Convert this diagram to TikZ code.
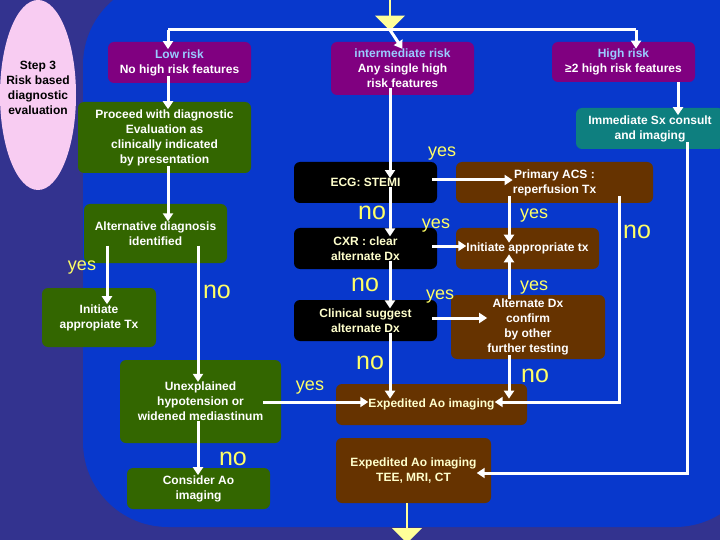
\documentclass[tikz,border=0pt]{standalone}
\usepackage{fontspec}
\setmainfont{Liberation Sans}
\usetikzlibrary{arrows.meta,shapes.arrows,shapes.geometric}
\definecolor{outer}{HTML}{33338F}
\definecolor{inner}{HTML}{0838CC}
\definecolor{purp}{HTML}{800080}
\definecolor{grn}{HTML}{336600}
\definecolor{brn}{HTML}{663300}
\definecolor{teal2}{HTML}{0E7F7F}
\definecolor{lab}{HTML}{FFFF66}
\definecolor{lyel}{HTML}{FFFFCC}
\definecolor{lblue}{HTML}{99CCFF}
\definecolor{pink}{HTML}{F8CCF2}
\definecolor{bigarr}{HTML}{FFFF99}
\begin{document}
\begin{tikzpicture}[x=1pt,y=-1pt,
 box/.style={rounded corners=6pt,inner sep=0pt,align=center,font=\bfseries\fontsize{12}{15}\selectfont,text=white},
 pbox/.style={box,fill=purp},
 gbox/.style={box,fill=grn},
 bbox/.style={box,fill=brn},
 kbox/.style={box,fill=black,text=lyel},
 ln/.style={draw=white,line width=3pt,-{Triangle[length=8pt,width=10pt]}},
 pl/.style={draw=white,line width=3pt},
 yes/.style={text=lab,font=\fontsize{18}{18}\selectfont},
 no/.style={text=lab,font=\fontsize{25}{25}\selectfont}]
\useasboundingbox (0,0) rectangle (720,540);
\fill[outer] (0,0) rectangle (720,540);
\fill[inner,rounded corners=85pt] (83,-20) rectangle (760,527);
\node[fill=pink,ellipse,minimum width=76pt,minimum height=190pt,inner sep=0pt] (ell) at (38,95) {};
\node[align=center,font=\bfseries\fontsize{12}{15}\selectfont] (step) at (38,88) {Step 3\\Risk based\\diagnostic\\evaluation};
% boxes
\path[pbox] (108,42) rectangle (251,83) node[midway] (low) {\textcolor{lblue}{Low risk}\\No high risk features};
\path[pbox] (331,42) rectangle (474,95) node[midway] (int) {\textcolor{lblue}{intermediate risk}\\Any single high\\risk features};
\path[pbox] (552,42) rectangle (695,82) node[midway] (high) {\textcolor{lblue}{High risk}\\≥2 high risk features};
\path[box,fill=teal2] (576,108) rectangle (724,149) node[midway] (imm) {Immediate Sx consult\\and imaging};
\path[gbox] (78,102) rectangle (251,173) node[midway] (proc) {Proceed with diagnostic\\Evaluation as\\clinically indicated\\by presentation};
\path[gbox] (84,204) rectangle (227,263) node[midway] (alt) {Alternative diagnosis\\identified};
\path[gbox] (42,288) rectangle (156,347) node[midway] (init) {Initiate\\appropiate Tx};
\path[gbox] (120,360) rectangle (281,443) node[midway] (unex) {Unexplained\\hypotension or\\widened mediastinum};
\path[gbox] (127,468) rectangle (270,509) node[midway] (cons) {Consider Ao\\imaging};
\path[kbox] (294,162) rectangle (437,203) node[midway] (ecg) {ECG: STEMI};
\path[kbox] (294,228) rectangle (437,269) node[midway] (cxr) {CXR : clear\\alternate Dx};
\path[kbox] (294,300) rectangle (437,341) node[midway] (clin) {Clinical suggest\\alternate Dx};
\path[bbox] (456,162) rectangle (653,203) node[midway] (acs) {Primary ACS :\\reperfusion Tx};
\path[bbox] (456,228) rectangle (599,269) node[midway] (itx) {Initiate appropriate tx};
\path[bbox] (451,295) rectangle (605,359) node[midway] (adx) {Alternate Dx\\confirm\\by other\\further testing};
\path[bbox,text=lyel] (336,384) rectangle (527,425) node[midway] (exp) {Expedited Ao imaging};
\path[bbox,text=lyel] (336,438) rectangle (491,503) node[midway] (tee) {Expedited Ao imaging\\TEE, MRI, CT};
% big arrows
\node[single arrow,fill=bigarr,shape border rotate=270,minimum width=30pt,single arrow head extend=3pt,minimum height=32pt,inner sep=0pt,anchor=tip] (top) at (390,31) {};
\node[single arrow,fill=bigarr,shape border rotate=270,minimum width=30pt,single arrow head extend=3pt,minimum height=40pt,inner sep=0pt,anchor=tail] (bot) at (407,503) {};
% connectors
\coordinate (tl) at (168,30); \coordinate (tr) at (636,30);
\draw[pl] (tl) -- (tr);
\draw[ln] (tl) -- (low.north -| tl);
\draw[ln] (390,30) -- (int.north);
\draw[ln] (tr) -- (high.north -| tr);
\draw[ln] (low.south -| tl) -- (proc.north -| tl);
\draw[ln] (proc.south -| tl) -- (alt.north -| tl);
\draw[ln] (alt.south -| 107,0) -- (init.north -| 107,0);
\draw[ln] (alt.south -| 198,0) -- (unex.north -| 198,0);
\draw[ln] (unex.south -| 198,0) -- (cons.north -| 198,0);
\draw[ln] (unex.east |- 0,402) -- (exp.west |- 0,402);
\draw[ln] (678,82) -- (imm.north -| 678,0);
\draw[ln] (int.south -| 390,0) -- (ecg.north -| 390,0);
\draw[ln] (ecg.south -| 390,0) -- (cxr.north -| 390,0);
\draw[ln] (cxr.south -| 390,0) -- (clin.north -| 390,0);
\draw[ln] (clin.south -| 390,0) -- (exp.north -| 390,0);
\draw[ln] (432,180) -- (acs.west |- 0,180);
\draw[ln] (432,246) -- (itx.west |- 0,246);
\draw[ln] (432,318) -- (adx.west |- 0,318);
\draw[ln] (acs.south -| 509,0) -- (itx.north -| 509,0);
\draw[ln] (adx.north -| 509,0) -- (itx.south -| 509,0);
\draw[ln] (adx.south -| 509,0) -- (exp.north -| 509,0);
\draw[ln] (acs.south -| 619,0) |- (exp.east |- 0,402);
\draw[ln] (imm.south -| 687,0) |- (tee.east |- 0,473);
% labels
\node[yes] (y1) at (82,268) {yes};
\node[no] (n1) at (217,292) {no};
\node[no] (n2) at (233,459) {no};
\node[yes] (y2) at (310,388) {yes};
\node[yes] (y3) at (442,154) {yes};
\node[no] (n3) at (372,213) {no};
\node[yes] (y4) at (436,226) {yes};
\node[no] (n4) at (365,285) {no};
\node[yes] (y5) at (440,297) {yes};
\node[no] (n5) at (370,363) {no};
\node[yes] (y6) at (534,216) {yes};
\node[yes] (y7) at (534,288) {yes};
\node[no] (n6) at (535,376) {no};
\node[no] (n7) at (637,232) {no};
\end{tikzpicture}
\end{document}
